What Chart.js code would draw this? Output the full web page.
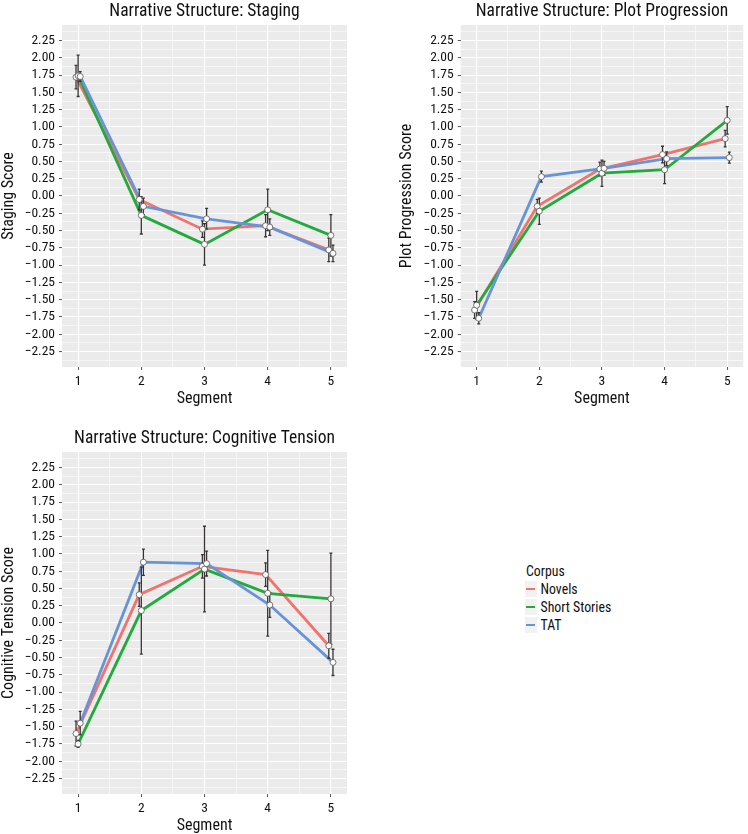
<!DOCTYPE html>
<html>
<head>
<meta charset="utf-8">
<script src="https://cdn.jsdelivr.net/npm/chart.js@4.4.1/dist/chart.umd.min.js"></script>
<style>
  body { margin: 0; background: #fff; width: 748px; height: 834px; position: relative; overflow: hidden;
         font-family: "Roboto Condensed", "DejaVu Sans Condensed", sans-serif; color: #111; }
  canvas { position: absolute; }
  #legend { position: absolute; left: 526px; top: 562px; font-size: 13.8px; }
  #legend div { height: 18px; line-height: 18px; white-space: nowrap; }
  #legend .key { display: inline-block; width: 12px; height: 16px; background: #f2f2f2; vertical-align: middle;
                 margin: -3px 4px 0 -1.5px; position: relative; }
  #legend .key i { position: absolute; left: 1.5px; right: 1.5px; top: 6.8px; height: 2.5px; }
</style>
</head>
<body>
<canvas id="staging" width="374" height="410" style="left:0;top:0"></canvas>
<canvas id="plot" width="350" height="410" style="left:398px;top:0"></canvas>
<canvas id="tension" width="374" height="410" style="left:0;top:427px"></canvas>
<div id="legend"></div>
<script>
const segments = [1, 2, 3, 4, 5];
const corpora = ["Novels", "Short Stories", "TAT"];
const colors = ["#f2736e", "#22ab3c", "#6794d8"];
const dodge = [-0.033, 0, 0.033];
const yTicks = [-2.25, -2, -1.75, -1.5, -1.25, -1, -0.75, -0.5, -0.25, 0, 0.25, 0.5, 0.75, 1, 1.25, 1.5, 1.75, 2, 2.25];

// Staging
const stagingNovels = [1.72, -0.05, -0.48, -0.43, -0.78];
const stagingNovelsErr = [0.17, 0.15, 0.12, 0.16, 0.17];
const stagingShort = [1.74, -0.28, -0.70, -0.20, -0.57];
const stagingShortErr = [0.30, 0.27, 0.30, 0.30, 0.30];
const stagingTAT = [1.73, -0.15, -0.33, -0.45, -0.83];
const stagingTATErr = [0.07, 0.12, 0.15, 0.12, 0.12];

// Plot progression
const plotNovels = [-1.65, -0.15, 0.39, 0.60, 0.83];
const plotNovelsErr = [0.12, 0.10, 0.10, 0.12, 0.12];
const plotShort = [-1.58, -0.22, 0.33, 0.38, 1.095];
const plotShortErr = [0.20, 0.19, 0.19, 0.20, 0.20];
const plotTAT = [-1.77, 0.28, 0.40, 0.54, 0.556];
const plotTATErr = [0.08, 0.08, 0.10, 0.10, 0.08];

// Cognitive tension
const tensionNovels = [-1.60, 0.41, 0.82, 0.70, -0.33];
const tensionNovelsErr = [0.18, 0.17, 0.17, 0.17, 0.18];
const tensionShort = [-1.75, 0.18, 0.78, 0.43, 0.35];
const tensionShortErr = [0.05, 0.63, 0.62, 0.62, 0.66];
const tensionTAT = [-1.45, 0.88, 0.86, 0.26, -0.57];
const tensionTATErr = [0.17, 0.19, 0.18, 0.18, 0.19];

const FONT = '"Roboto Condensed", "DejaVu Sans Condensed", sans-serif';

// minor grid between the majors, like ggplot
const yGrid = [];
yTicks.forEach((v, i) => {
  if (i === 0) yGrid.push(v - 0.125);
  yGrid.push(v);
  yGrid.push(v + 0.125);
});
const xGrid = [];
segments.forEach((s, i) => {
  xGrid.push(s);
  if (i < segments.length - 1) xGrid.push(s + 0.5);
});

const fmt = (v) => v.toFixed(2).replace("-", "\u2212");

const panelBg = {
  id: "panelBg",
  beforeDraw(chart) {
    const { ctx, chartArea: a } = chart;
    ctx.save();
    ctx.fillStyle = "#ebebeb";
    ctx.fillRect(a.left, a.top, a.right - a.left, a.bottom - a.top);
    ctx.restore();
    chart.$barsDone = false;
  },
};

// error bars go between the lines and the points
const errorBars = {
  id: "errorBars",
  beforeDatasetDraw(chart, args) {
    if (!chart.data.datasets[args.index].isPoint || chart.$barsDone) return;
    chart.$barsDone = true;
    const { ctx } = chart;
    const xs = chart.scales.x, ys = chart.scales.y;
    ctx.save();
    ctx.strokeStyle = "#3a3434";
    ctx.lineWidth = 1.3;
    chart.data.datasets.forEach((ds) => {
      if (!ds.errs) return;
      ds.data.forEach((p, i) => {
        const x = xs.getPixelForValue(p.x);
        const y1 = ys.getPixelForValue(p.y + ds.errs[i]);
        const y2 = ys.getPixelForValue(p.y - ds.errs[i]);
        ctx.beginPath();
        ctx.moveTo(x, y1); ctx.lineTo(x, y2);
        ctx.moveTo(x - 1.5, y1); ctx.lineTo(x + 1.5, y1);
        ctx.moveTo(x - 1.5, y2); ctx.lineTo(x + 1.5, y2);
        ctx.stroke();
      });
    });
    ctx.restore();
  },
};

function makePanel(id, title, yTitle, means, errs, yAxisWidth, padRight, yTitlePad) {
  const datasets = [];
  corpora.forEach((name, k) => {
    const pts = segments.map((s, i) => ({ x: s + dodge[k], y: means[k][i] }));
    datasets.push({
      type: "line", label: name, data: pts, errs: errs[k],
      borderColor: colors[k], borderWidth: 2.8, pointRadius: 0, tension: 0, fill: false,
      order: 12 - k,
    });
    datasets.push({
      type: "scatter", label: name + " points", data: pts, isPoint: true,
      pointRadius: 3, backgroundColor: "#fff", borderColor: "#555", borderWidth: 0.8,
      order: 2 - k,
    });
  });

  const isMajorY = (c) => c.tick && yTicks.includes(c.tick.value);
  const isMajorX = (c) => c.tick && segments.includes(c.tick.value);

  new Chart(document.getElementById(id), {
    data: { datasets },
    plugins: [panelBg, errorBars],
    options: {
      responsive: false,
      animation: false,
      devicePixelRatio: 1,
      layout: { padding: { left: 0, right: padRight, top: 0, bottom: 0 } },
      plugins: {
        legend: { display: false },
        tooltip: { enabled: false },
        title: {
          display: true, text: title, fullSize: false, color: "#111",
          font: { family: FONT, size: 17.5, weight: "normal", lineHeight: 1.2 },
          padding: { top: 1, bottom: 3 },
        },
      },
      scales: {
        x: {
          type: "linear", min: 0.745, max: 5.255,
          afterBuildTicks: (s) => { s.ticks = xGrid.map((v) => ({ value: v })); },
          afterFit: (s) => { s.height = 43; },
          border: { display: false },
          grid: {
            color: "#fff",
            lineWidth: (c) => (isMajorX(c) ? 1.1 : 0.55),
            tickLength: 3,
            tickColor: (c) => (isMajorX(c) ? "#555" : "rgba(0,0,0,0)"),
            tickWidth: 1,
          },
          ticks: {
            autoSkip: false, maxRotation: 0, padding: 4, color: "#111",
            font: { family: FONT, size: 13.5 },
            callback: (v) => (segments.includes(v) ? String(v) : ""),
          },
          title: {
            display: true, text: "Segment", color: "#111",
            font: { family: FONT, size: 16, lineHeight: 1 },
            padding: { top: 0, bottom: 3.5 },
          },
        },
        y: {
          type: "linear", min: -2.475, max: 2.475,
          afterBuildTicks: (s) => { s.ticks = yGrid.map((v) => ({ value: v })); },
          afterFit: (s) => { s.width = yAxisWidth; },
          border: { display: false },
          grid: {
            color: "#fff",
            lineWidth: (c) => (isMajorY(c) ? 1.1 : 0.55),
            tickLength: 3,
            tickColor: (c) => (isMajorY(c) ? "#555" : "rgba(0,0,0,0)"),
            tickWidth: 1,
          },
          ticks: {
            autoSkip: false, padding: 4, color: "#111",
            font: { family: FONT, size: 13.5 },
            callback: (v) => (yTicks.includes(v) ? fmt(v) : ""),
          },
          title: {
            display: true, text: yTitle, color: "#111",
            font: { family: FONT, size: 16, lineHeight: 1 },
            padding: { top: yTitlePad, bottom: 0 },
          },
        },
      },
    },
  });
}

makePanel("staging", "Narrative Structure: Staging", "Staging Score",
  [stagingNovels, stagingShort, stagingTAT],
  [stagingNovelsErr, stagingShortErr, stagingTATErr], 62, 27, 0.5);

makePanel("plot", "Narrative Structure: Plot Progression", "Plot Progression Score",
  [plotNovels, plotShort, plotTAT],
  [plotNovelsErr, plotShortErr, plotTATErr], 62.7, 2.3, 0.5);

makePanel("tension", "Narrative Structure: Cognitive Tension", "Cognitive Tension Score",
  [tensionNovels, tensionShort, tensionTAT],
  [tensionNovelsErr, tensionShortErr, tensionTATErr], 62, 27, 0.5);

// legend
const legend = document.getElementById("legend");
const head = document.createElement("div");
head.textContent = "Corpus";
legend.appendChild(head);
corpora.forEach((name, k) => {
  const row = document.createElement("div");
  const key = document.createElement("span");
  key.className = "key";
  const line = document.createElement("i");
  line.style.background = colors[k];
  key.appendChild(line);
  row.appendChild(key);
  row.appendChild(document.createTextNode(name));
  legend.appendChild(row);
});
</script>
</body>
</html>
